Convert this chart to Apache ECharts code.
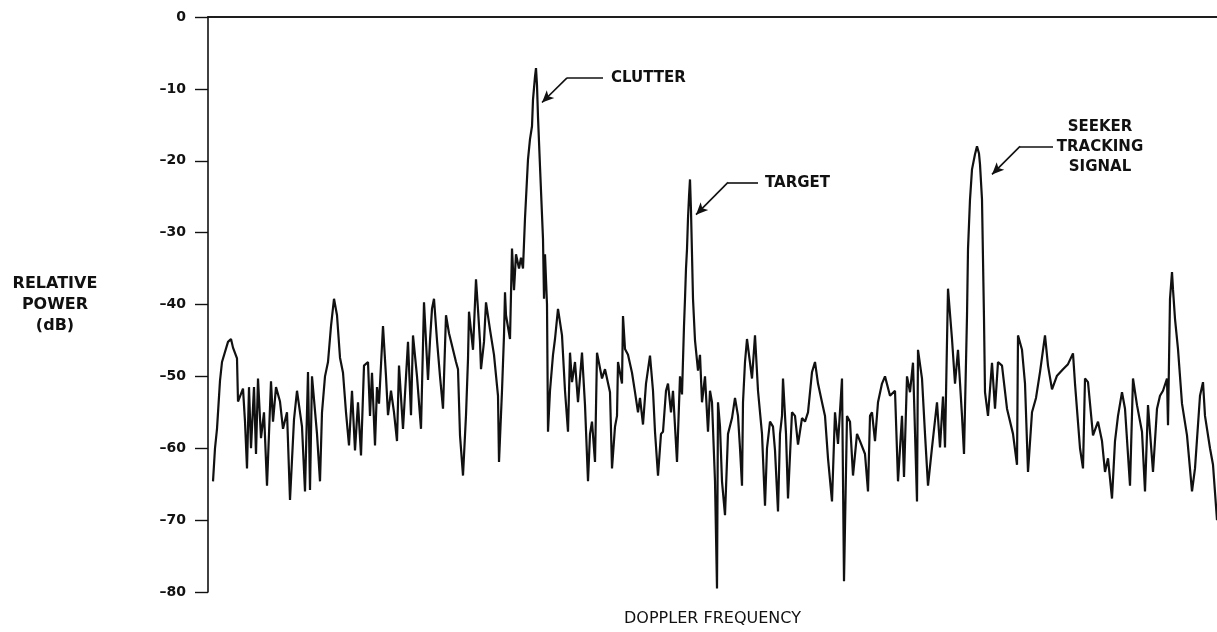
<!DOCTYPE html>
<html>
<head>
<meta charset="utf-8">
<title>Doppler spectrum</title>
<script src="https://cdn.jsdelivr.net/npm/echarts@6/dist/echarts.min.js"></script>
<style>
  html, body { margin: 0; padding: 0; background: #fff; }
  #chart { width: 1217px; height: 632px; }
</style>
</head>
<body>
<div id="chart"></div>
<script>
// doppler spectrum: [frequency bin, relative power dB]
var spectrum = [
  [5,-64.6],[7,-60],[9,-57.3],[12,-50.6],[14,-48],[20,-45.2],[23,-44.8],[25,-46],[29,-47.5],[30,-53.5],
  [35,-51.7],[37,-56.3],[39,-62.8],[41,-51.5],[43,-60],[46,-51.5],[48,-60.8],[50,-50.3],[53,-58.6],[56,-55],
  [59,-65.2],[63,-50.7],[65,-56.3],[68,-51.5],[72,-53.5],[75,-57.3],[79,-55],[82,-67.2],[86,-56],[89,-52],
  [92,-55],[94,-57],[97,-66],[100,-49.4],[102,-65.8],[104,-50],[109,-58],[112,-64.6],[114,-55],[117,-50],
  [120,-48],[123,-43],[126,-39.2],[129,-41.5],[132,-47.4],[135,-49.5],[138,-55],[141,-59.6],[144,-52],[147,-60.3],
  [150,-53.6],[153,-61],[156,-48.5],[160,-48],[162,-55.5],[164,-49.5],[167,-59.6],[169,-51.5],[171,-53.8],[175,-43],
  [178,-50],[180,-55.4],[183,-52],[186,-55],[189,-59],[191,-48.5],[195,-57.3],[200,-45.2],[203,-55.4],[205,-44.3],
  [209,-50],[213,-57.3],[216,-39.7],[220,-50.5],[222,-45],[224,-40.6],[226,-39.2],[229,-45],[232,-50],[235,-54.5],
  [238,-41.5],[241,-44],[244,-45.7],[248,-48],[250,-49],[252,-58.2],[255,-63.8],[258,-55.4],[260,-47.6],[261,-41],
  [265,-46.3],[268,-36.5],[270,-40.7],[272,-45.2],[273,-49],[276,-45.2],[278,-39.7],[282,-43.5],[286,-47],[290,-52.7],
  [291,-61.9],[294,-52],[296,-44.3],[297,-38.3],[298,-41.5],[302,-44.8],[304,-32.2],[306,-38],[308,-33],[311,-35],
  [313,-33.5],[315,-35],[317,-28],[320,-19.8],[322,-17],[324,-15.2],[325,-11.5],[327,-8.3],[328,-7.1],[329,-9.5],
  [330,-13.9],[332,-20.8],[335,-30.9],[336,-39.2],[337,-33],[339,-40],[340,-57.7],[342,-52],[345,-47],[347,-44.8],
  [350,-40.6],[354,-44.3],[357,-52],[360,-57.7],[362,-46.7],[364,-50.8],[367,-48],[370,-53.6],[374,-46.7],[377,-54],
  [380,-64.6],[382,-58],[384,-56.3],[387,-61.9],[389,-46.7],[394,-50.3],[397,-49],[402,-52.2],[404,-62.8],[407,-57],
  [409,-55.5],[410,-48],[414,-51],[415,-41.6],[417,-46.2],[420,-47],[424,-49.5],[427,-52.2],[430,-55],[432,-53],
  [435,-56.7],[438,-51],[442,-47.1],[445,-52],[447,-57.7],[450,-63.8],[453,-58],[455,-57.7],[458,-52],[460,-51],
  [463,-55],[465,-52],[469,-61.9],[472,-50],[474,-52.5],[476,-43],[477,-39.2],[478,-35],[479,-32.3],[480,-28],
  [481,-25],[482,-22.6],[483,-27],[484,-33],[485,-39.2],[487,-45],[490,-49.2],[492,-47],[494,-53.6],[497,-50],
  [500,-57.7],[502,-52],[504,-53.6],[507,-64.6],[509,-79.5],[510,-53.6],[512,-57],[514,-64.6],[517,-69.3],[520,-58],
  [524,-55.8],[527,-53],[530,-55.5],[532,-60],[534,-65.2],[535,-53.6],[537,-48],[539,-44.8],[541,-44.8],[544,-50.3],
  [547,-44.3],[550,-52],[554,-58],[557,-68],[559,-60],[562,-56.3],[565,-57],[567,-60.3],[570,-68.8],[572,-58],
  [574,-55.5],[575,-50.3],[578,-58],[580,-67],[584,-55],[587,-55.5],[590,-59.5],[594,-55.8],[597,-56.3],[600,-55],
  [604,-49.4],[607,-48],[610,-51],[614,-53.6],[617,-55.5],[620,-61.4],[624,-67.4],[627,-55],[630,-59.4],[634,-50.3],
  [636,-78.5],[639,-55.5],[642,-56.3],[645,-63.8],[649,-58],[652,-59],[657,-60.8],[660,-66],[662,-55.5],[664,-55],
  [667,-59],[670,-53.6],[674,-51],[677,-50],[682,-52.7],[687,-52],[690,-64.6],[694,-55.5],[696,-64],[699,-50],
  [702,-52.2],[705,-48.1],[709,-67.4],[710,-46.3],[714,-50.3],[717,-58],[720,-65.2],[724,-59.9],[729,-53.6],[732,-59.9],
  [735,-52.8],[737,-59.9],[740,-37.8],[744,-44.8],[747,-51],[750,-46.3],[754,-55.5],[756,-60.8],[759,-41.6],[760,-32.3],
  [762,-25.4],[764,-21.2],[767,-19.1],[769,-18],[771,-19],[772,-20.5],[774,-25.4],[775,-33.7],[776,-42],[777,-52.2],
  [780,-55.5],[784,-48.1],[787,-54.5],[790,-48],[794,-48.5],[799,-54.5],[805,-58],[809,-62.3],[810,-44.3],[814,-46.3],
  [817,-51],[820,-63.3],[824,-55],[828,-53],[832,-49.4],[837,-44.3],[840,-48.5],[844,-51.8],[849,-49.9],[855,-49],
  [860,-48.3],[865,-46.8],[867,-51],[872,-60],[875,-62.8],[877,-50.3],[880,-50.8],[885,-58.2],[890,-56.3],[894,-59],
  [897,-63.3],[900,-61.4],[904,-67],[907,-59],[910,-55.5],[914,-52.2],[917,-54.5],[922,-65.2],[925,-50.3],[929,-54],
  [934,-57.7],[937,-66],[940,-54],[945,-63.3],[949,-54.5],[952,-52.7],[955,-52],[959,-50.3],[960,-56.8],[962,-39.2],
  [964,-35.5],[965,-37.9],[967,-42],[970,-46.2],[974,-53.8],[979,-58.2],[984,-66],[987,-62.8],[992,-52.7],[995,-50.8],
  [997,-55.5],[1002,-60],[1005,-62.3],[1009,-70]
];

var yTicks = { min: -80, max: 0, step: 10 };

// annotation leaders: start of horizontal run, elbow, arrow tip (bin, dB)
var leaders = [
  { name: 'CLUTTER', from: [395, -8.46], elbow: [359, -8.46], tip: [334, -11.9] },
  { name: 'TARGET', from: [550, -23.0], elbow: [520, -23.0], tip: [488, -27.5] },
  { name: 'SEEKER', from: [845, -18.0], elbow: [812, -18.0], tip: [784, -21.9] }
];

var chart = echarts.init(document.getElementById('chart'));

var leaderLines = [];
leaders.forEach(function (l) {
  leaderLines.push([{ coord: l.from, symbol: 'none' }, { coord: l.elbow, symbol: 'none' }]);
  leaderLines.push([{ coord: l.elbow, symbol: 'none' }, { coord: l.tip, symbol: 'arrow' }]);
});

function label(text, x, y, size, align) {
  return {
    type: 'text',
    x: x,
    y: y,
    style: {
      text: text,
      fontFamily: 'DejaVu Sans',
      fontWeight: 'bold',
      fontSize: size,
      fill: '#111',
      align: align || 'center',
      verticalAlign: 'middle'
    }
  };
}

var option = {
  backgroundColor: '#fff',
  animation: false,
  grid: { left: 208, right: 0, top: 17, bottom: 38 },
  xAxis: [
    {
      type: 'value',
      min: 0,
      max: 1009,
      position: 'bottom',
      axisLine: { show: true, lineStyle: { color: '#111', width: 1.6 } },
      axisTick: { show: false },
      axisLabel: { show: false },
      splitLine: { show: false },
      name: 'DOPPLER FREQUENCY',
      nameLocation: 'middle',
      nameGap: 19,
      nameTextStyle: { fontFamily: 'DejaVu Sans', fontSize: 16, color: '#111', verticalAlign: 'top' }
    },
    {
      type: 'value',
      min: 0,
      max: 1009,
      position: 'top',
      axisLine: { show: true, lineStyle: { color: '#111', width: 1.6 } },
      axisTick: { show: false },
      axisLabel: { show: false },
      splitLine: { show: false }
    }
  ],
  yAxis: {
    type: 'value',
    min: yTicks.min,
    max: yTicks.max,
    interval: yTicks.step,
    axisLine: { show: true, lineStyle: { color: '#111', width: 1.6 } },
    axisTick: { show: true, inside: false, length: 13, lineStyle: { color: '#111', width: 1.4 } },
    axisLabel: {
      margin: 22,
      color: '#111',
      fontFamily: 'DejaVu Sans',
      fontWeight: 'bold',
      fontSize: 14,
      formatter: function (v) { return v < 0 ? '\u2013' + (-v) : String(v); }
    },
    splitLine: { show: false }
  },
  series: [
    {
      name: 'power',
      type: 'line',
      data: spectrum,
      showSymbol: false,
      symbol: 'none',
      lineStyle: { color: '#111', width: 2.2 },
      markLine: {
        silent: true,
        symbolSize: [8, 12],
        label: { show: false },
        lineStyle: { color: '#111', width: 1.6, type: 'solid' },
        data: leaderLines
      }
    }
  ],
  graphic: [
    label('RELATIVE', 55, 284, 16),
    label('POWER', 55, 305, 16),
    label('(dB)', 55, 326, 16),
    label('CLUTTER', 611, 78, 15, 'left'),
    label('TARGET', 765, 183, 15, 'left'),
    label('SEEKER', 1100, 127, 15),
    label('TRACKING', 1100, 147, 15),
    label('SIGNAL', 1100, 167, 15)
  ]
};

chart.setOption(option);
</script>
</body>
</html>
